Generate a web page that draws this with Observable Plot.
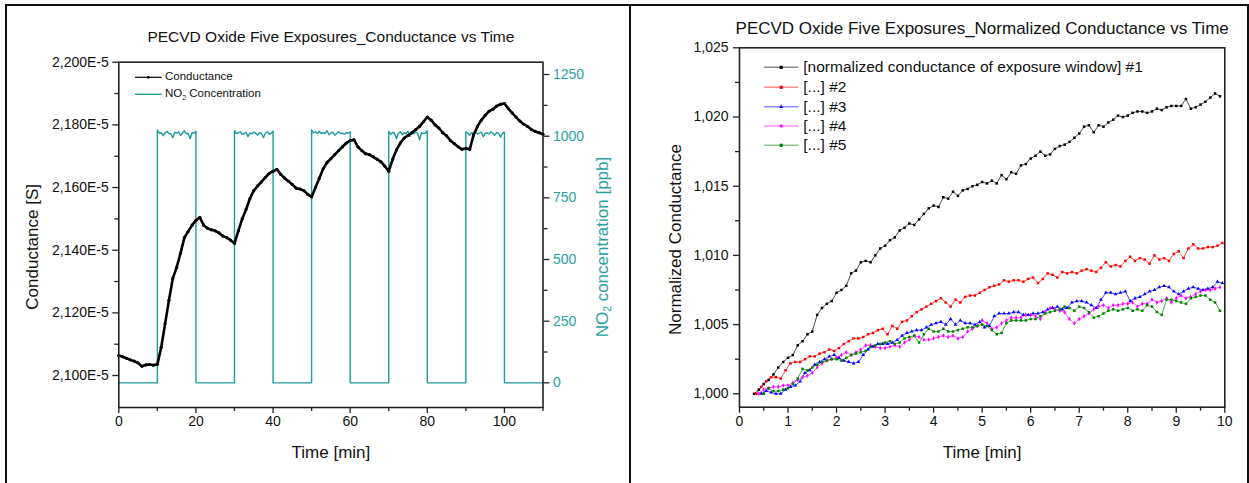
<!DOCTYPE html>
<html><head><meta charset="utf-8">
<script src="https://cdn.jsdelivr.net/npm/d3@7"></script>
<script src="https://cdn.jsdelivr.net/npm/@observablehq/plot@0.6"></script>
<style>
html,body{margin:0;padding:0;background:#fff;}
#root{position:relative;width:1249px;height:483px;overflow:hidden;font-family:"Liberation Sans",Arial,sans-serif;color:#111;}
.layer{position:absolute;top:0;}
.layer svg{background:none !important;overflow:visible;}
.bl{position:absolute;background:#111;}
.lt{position:absolute;white-space:nowrap;line-height:1;transform:translateY(-50%);}
sub{font-size:0.6em;vertical-align:-0.35em;line-height:0;}
</style>
</head><body>
<div id="root"></div>
<script>
// ---------------- DATA ----------------
// Left panel: conductance (units of 1E-5 S), sampled every minute from t = 0 to 110 min
const condStartMin = 0, condStepMin = 1;
const conductance = [
 2.1064,2.1060,2.1055,2.1050,2.1046,2.1040,2.1030,2.1034,2.1035,2.1033,
 2.1036,2.1090,2.1165,2.1240,2.1310,2.1345,2.1390,2.1440,2.1460,2.1480,
 2.1495,2.1505,2.1480,2.1470,2.1465,2.1462,2.1455,2.1445,2.1440,2.1432,
 2.1422,2.1462,2.1500,2.1530,2.1565,2.1590,2.1605,2.1618,2.1632,2.1645,
 2.1652,2.1658,2.1642,2.1630,2.1620,2.1610,2.1598,2.1595,2.1590,2.1578,
 2.1570,2.1600,2.1630,2.1660,2.1680,2.1692,2.1705,2.1718,2.1730,2.1742,
 2.1750,2.1752,2.1730,2.1718,2.1708,2.1705,2.1698,2.1690,2.1682,2.1668,
 2.1652,2.1690,2.1720,2.1742,2.1758,2.1766,2.1775,2.1785,2.1795,2.1810,
 2.1825,2.1815,2.1800,2.1790,2.1775,2.1765,2.1750,2.1740,2.1730,2.1722,
 2.1725,2.1722,2.1768,2.1795,2.1815,2.1830,2.1843,2.1850,2.1860,2.1866,
 2.1868,2.1852,2.1838,2.1825,2.1812,2.1802,2.1795,2.1785,2.1779,2.1775,
 2.1770
];
// NO2 exposures (min) and plateau readings (ppb) every 0.5 min during each exposure
const exposureStart = [10, 30, 50, 70, 90];
const exposureEnd = [20, 40, 60, 80, 100];
const plateauStepMin = 0.5;
const plateaus = [
 [1025,1012,1014,1002,1013,1020,1011,1010,994,1016,1012,1018,1003,1012,1022,1010,1011,990,1014,1012,1020],
 [1022,1011,1013,1018,1008,1010,1016,998,1013,1010,1016,1012,1004,1014,1011,994,1012,1018,1009,1011,1020],
 [1026,1013,1018,1010,1020,1011,1014,1012,1022,1006,1012,1016,1004,1010,1018,1011,1012,1008,1015,1012,1018],
 [1020,1008,1015,1012,990,1012,1018,1006,1014,1011,1020,999,1012,1010,1016,1012,985,1014,1011,1012,1022],
 [1018,1012,1004,1014,1011,1020,1008,1012,1016,998,1011,1014,1009,1018,1012,1004,1015,1011,996,1012,1016]
];
const leftTimeEnd = 110;
const condMajorTicks = [2.10, 2.12, 2.14, 2.16, 2.18, 2.20];
const condMinorTicks = [2.11, 2.13, 2.15, 2.17, 2.19];
const concMajorTicks = [0, 250, 500, 750, 1000, 1250];
const concMinorTicks = [125, 375, 625, 875, 1125];
const leftXMajor = [0, 20, 40, 60, 80, 100];
const leftXMinor = [10, 30, 50, 70, 90, 110];

// Right panel: normalized conductance, sampled every 0.1 min
const seriesNames = [
 "[normalized conductance of exposure window] #1",
 "[...] #2", "[...] #3", "[...] #4", "[...] #5"
];
const seriesStartMin = [0.3, 0.35, 0.45, 0.4, 0.5];
const normStepMin = 0.1;
const norm1 = [
 1.0000,1.0003,1.0007,1.0010,1.0014,1.0019,1.0023,1.0026,1.0028,1.0035,
 1.0038,1.0043,1.0045,1.0057,1.0062,1.0065,1.0067,1.0073,1.0075,1.0078,
 1.0087,1.0089,1.0095,1.0096,1.0095,1.0100,1.0105,1.0107,1.0111,1.0113,
 1.0118,1.0120,1.0123,1.0122,1.0126,1.0130,1.0134,1.0136,1.0135,1.0142,
 1.0141,1.0146,1.0143,1.0147,1.0148,1.0150,1.0151,1.0153,1.0152,1.0154,
 1.0152,1.0158,1.0155,1.0160,1.0159,1.0165,1.0166,1.0170,1.0172,1.0175,
 1.0172,1.0173,1.0177,1.0179,1.0180,1.0182,1.0185,1.0188,1.0193,1.0194,
 1.0189,1.0194,1.0193,1.0196,1.0198,1.0201,1.0200,1.0201,1.0203,1.0204,
 1.0204,1.0203,1.0204,1.0206,1.0205,1.0207,1.0208,1.0208,1.0208,1.0213,
 1.0206,1.0207,1.0209,1.0211,1.0214,1.0217,1.0215
];
const norm2 = [
 1.0000,1.0005,1.0009,1.0012,1.0012,1.0011,1.0017,1.0022,1.0023,1.0023,
 1.0025,1.0027,1.0027,1.0029,1.0030,1.0032,1.0031,1.0033,1.0036,1.0038,
 1.0040,1.0040,1.0041,1.0043,1.0044,1.0046,1.0047,1.0043,1.0049,1.0047,
 1.0052,1.0053,1.0056,1.0059,1.0061,1.0063,1.0065,1.0067,1.0069,1.0066,
 1.0063,1.0068,1.0066,1.0070,1.0071,1.0071,1.0073,1.0075,1.0077,1.0078,
 1.0079,1.0082,1.0081,1.0082,1.0082,1.0081,1.0083,1.0084,1.0080,1.0083,
 1.0087,1.0086,1.0084,1.0088,1.0087,1.0088,1.0087,1.0089,1.0090,1.0089,
 1.0088,1.0091,1.0095,1.0092,1.0093,1.0092,1.0096,1.0099,1.0096,1.0098,
 1.0097,1.0094,1.0100,1.0097,1.0098,1.0096,1.0101,1.0103,1.0098,1.0105,
 1.0108,1.0105,1.0105,1.0106,1.0106,1.0107,1.0109
];
const norm3 = [
 1.0000,1.0002,1.0001,1.0000,1.0000,1.0003,1.0005,1.0006,1.0009,1.0015,
 1.0017,1.0021,1.0023,1.0025,1.0027,1.0028,1.0026,1.0024,1.0023,1.0022,
 1.0023,1.0028,1.0032,1.0034,1.0036,1.0036,1.0036,1.0037,1.0039,1.0042,
 1.0044,1.0045,1.0046,1.0046,1.0048,1.0050,1.0051,1.0052,1.0050,1.0054,
 1.0050,1.0053,1.0051,1.0051,1.0050,1.0052,1.0048,1.0049,1.0056,1.0058,
 1.0058,1.0058,1.0059,1.0059,1.0057,1.0057,1.0058,1.0058,1.0059,1.0061,
 1.0062,1.0063,1.0061,1.0062,1.0066,1.0067,1.0067,1.0066,1.0064,1.0062,
 1.0068,1.0073,1.0073,1.0072,1.0073,1.0074,1.0067,1.0069,1.0070,1.0072,
 1.0074,1.0075,1.0077,1.0078,1.0077,1.0074,1.0072,1.0074,1.0076,1.0077,
 1.0076,1.0075,1.0076,1.0077,1.0081,1.0080
];
const norm4 = [
 1.0000,1.0003,1.0004,1.0005,1.0005,1.0006,1.0006,1.0008,1.0010,1.0012,
 1.0013,1.0015,1.0019,1.0022,1.0024,1.0025,1.0026,1.0028,1.0030,1.0028,
 1.0030,1.0032,1.0035,1.0035,1.0034,1.0033,1.0033,1.0034,1.0035,1.0034,
 1.0037,1.0039,1.0042,1.0041,1.0039,1.0039,1.0040,1.0041,1.0042,1.0041,
 1.0042,1.0040,1.0041,1.0045,1.0047,1.0049,1.0053,1.0051,1.0047,1.0048,
 1.0051,1.0053,1.0055,1.0055,1.0055,1.0057,1.0057,1.0056,1.0054,1.0059,
 1.0062,1.0061,1.0060,1.0059,1.0054,1.0051,1.0054,1.0056,1.0058,1.0061,
 1.0063,1.0064,1.0062,1.0064,1.0064,1.0065,1.0065,1.0066,1.0063,1.0065,
 1.0065,1.0068,1.0066,1.0067,1.0069,1.0066,1.0069,1.0071,1.0069,1.0070,
 1.0072,1.0074,1.0075,1.0075,1.0076,1.0077
];
const norm5 = [
 1.0000,1.0004,1.0002,1.0002,1.0003,1.0004,1.0007,1.0011,1.0018,1.0017,
 1.0019,1.0021,1.0023,1.0024,1.0025,1.0025,1.0024,1.0026,1.0028,1.0029,
 1.0030,1.0031,1.0034,1.0035,1.0036,1.0037,1.0038,1.0036,1.0037,1.0040,
 1.0041,1.0042,1.0037,1.0043,1.0047,1.0045,1.0045,1.0047,1.0045,1.0045,
 1.0046,1.0047,1.0048,1.0048,1.0049,1.0050,1.0049,1.0046,1.0043,1.0044,
 1.0051,1.0053,1.0053,1.0053,1.0053,1.0054,1.0054,1.0056,1.0058,1.0059,
 1.0060,1.0061,1.0063,1.0062,1.0060,1.0063,1.0062,1.0059,1.0055,1.0056,
 1.0058,1.0060,1.0061,1.0060,1.0061,1.0062,1.0060,1.0061,1.0060,1.0064,
 1.0063,1.0059,1.0057,1.0068,1.0068,1.0067,1.0066,1.0065,1.0069,1.0070,
 1.0071,1.0071,1.0068,1.0066,1.0060
];
const normMajorY = [1.000, 1.005, 1.010, 1.015, 1.020, 1.025];
const normMinorY = [1.0025, 1.0075, 1.0125, 1.0175, 1.0225];
const normMajorX = [0,1,2,3,4,5,6,7,8,9,10];
const normMinorX = [0.5,1.5,2.5,3.5,4.5,5.5,6.5,7.5,8.5,9.5];

const leftTitle = "PECVD Oxide Five Exposures_Conductance vs Time";
const rightTitle = "PECVD Oxide Five Exposures_Normalized Conductance vs Time";

// ---------------- STYLE ----------------
const FONT = '"Liberation Sans", Arial, sans-serif';
const AXIS = "#222";
const TEAL = "#1e9c9c";
const TEAL_TXT = "#2a9fa0";
const seriesColors = ["#000000", "#ff0000", "#0000ff", "#ff00ff", "#008000"];
const seriesSymbols = ["square", "square", "triangle", "diamond", "square"];

// ---------------- TABLES ----------------
const condRows = conductance.map((g, i) => ({t: condStartMin + i * condStepMin, g}));
const concRows = [{t: 0, c: 0}];
exposureStart.forEach((s, i) => {
  concRows.push({t: s, c: 0});
  plateaus[i].forEach((c, j) => concRows.push({t: s + j * plateauStepMin, c}));
  concRows.push({t: exposureEnd[i], c: 0});
});
concRows.push({t: leftTimeEnd, c: 0});

const normSeries = [norm1, norm2, norm3, norm4, norm5];
const normRows = [];
normSeries.forEach((arr, k) => arr.forEach((v, i) =>
  normRows.push({t: Math.round((seriesStartMin[k] + i * normStepMin) * 1000) / 1000, v, s: seriesNames[k]})));

const fmtG = d => d3.format(".3f")(d).replace(".", ",") + "E-5";
const fmtN = d => d3.format(".3f")(d).replace(".", ",");
const fmtC = d => String(d);
const blank = () => "";

const root = document.getElementById("root");
function layer(el, left) {
  const d = document.createElement("div");
  d.className = "layer"; d.style.left = left + "px";
  d.appendChild(el); root.appendChild(d);
}

const LM = {width: 630, height: 483, marginLeft: 118.3, marginRight: 87.5, marginTop: 61.7, marginBottom: 76};
const baseStyle = {background: "none", fontFamily: FONT, fontSize: "14px", color: "#111", overflow: "visible"};

// Concentration layer (under)
layer(Plot.plot({
  ...LM, style: baseStyle,
  x: {domain: [0, 110], axis: null},
  y: {domain: [-100, 1300], label: null},
  marks: [
    Plot.line(concRows, {x: "t", y: "c", stroke: TEAL, strokeWidth: 1.4}),
    Plot.axisY(concMajorTicks, {anchor: "right", tickSize: 6, tickPadding: 4, tickFormat: fmtC, fill: TEAL_TXT, stroke: AXIS, strokeWidth: 1.3, label: null, fontSize: 14}),
    Plot.axisY(concMinorTicks, {anchor: "right", tickSize: 4, tickFormat: blank, stroke: AXIS, strokeWidth: 1.3, label: null})
  ]
}), 0);

// Conductance layer (over)
layer(Plot.plot({
  ...LM, style: baseStyle,
  x: {domain: [0, 110], label: null},
  y: {domain: [2.0898, 2.2], label: null},
  marks: [
    Plot.axisY(condMajorTicks, {tickSize: 6, tickPadding: 4, tickFormat: fmtG, stroke: AXIS, strokeWidth: 1.3, label: null, fontSize: 14}),
    Plot.axisY(condMinorTicks, {tickSize: 4, tickFormat: blank, stroke: AXIS, strokeWidth: 1.3, label: null}),
    Plot.axisX(leftXMajor, {tickSize: 6, tickPadding: 3, stroke: AXIS, strokeWidth: 1.3, label: null, fontSize: 14}),
    Plot.axisX(leftXMinor, {tickSize: 4, tickFormat: blank, stroke: AXIS, strokeWidth: 1.3, label: null}),
    Plot.line(condRows, {x: "t", y: "g", stroke: "#000", strokeWidth: 2.6}),
    Plot.dot(condRows, {x: "t", y: "g", r: 1.6, fill: "#000"}),
    Plot.frame({stroke: AXIS, strokeWidth: 1.6}),
    Plot.text([leftTitle], {frameAnchor: "top", lineAnchor: "middle", dy: -24.7, fontSize: 15.5, text: d => d}),
    Plot.text(["Conductance [S]"], {frameAnchor: "left", textAnchor: "middle", lineAnchor: "middle", dx: -86.5, dy: 12, rotate: -90, fontSize: 17, text: d => d}),
    Plot.text(["Time [min]"], {frameAnchor: "bottom", lineAnchor: "middle", dy: 45, fontSize: 17, text: d => d})
  ]
}), 0);

// Right panel
layer(Plot.plot({
  width: 619, height: 483, marginLeft: 109, marginRight: 24.7, marginTop: 47.3, marginBottom: 76.3,
  style: baseStyle,
  x: {domain: [0, 10], label: null},
  y: {domain: [0.99903, 1.025], label: null},
  color: {domain: seriesNames, range: seriesColors},
  symbol: {domain: seriesNames, range: seriesSymbols},
  marks: [
    Plot.axisY(normMajorY, {tickSize: 6, tickPadding: 5, tickFormat: fmtN, stroke: AXIS, strokeWidth: 1.3, label: null, fontSize: 14}),
    Plot.axisY(normMinorY, {tickSize: 4, tickFormat: blank, stroke: AXIS, strokeWidth: 1.3, label: null}),
    Plot.axisX(normMajorX, {tickSize: 6, tickPadding: 3, stroke: AXIS, strokeWidth: 1.3, label: null, fontSize: 14}),
    Plot.axisX(normMinorX, {tickSize: 4, tickFormat: blank, stroke: AXIS, strokeWidth: 1.3, label: null}),
    Plot.line(normRows, {x: "t", y: "v", z: "s", stroke: "s", strokeWidth: 1, strokeOpacity: 0.7}),
    Plot.dot(normRows, {x: "t", y: "v", fill: "s", symbol: "s", r: 1.4}),
    Plot.frame({stroke: AXIS, strokeWidth: 1.6}),
    Plot.text([rightTitle], {frameAnchor: "top", lineAnchor: "middle", dy: -19.3, fontSize: 17, text: d => d}),
    Plot.text(["Normalized Conductance"], {frameAnchor: "left", textAnchor: "middle", lineAnchor: "middle", dx: -64, dy: 12, rotate: -90, fontSize: 17, text: d => d}),
    Plot.text(["Time [min]"], {frameAnchor: "bottom", lineAnchor: "middle", dy: 45.3, fontSize: 17, text: d => d})
  ]
}), 630);

// NO2 axis title (needs a subscript)
const no2 = document.createElement("div");
no2.style.cssText = `position:absolute;left:601.7px;top:246.5px;transform:translate(-50%,-50%) rotate(-90deg);white-space:nowrap;font-size:17px;color:${TEAL_TXT};line-height:1;`;
no2.innerHTML = "NO<sub>2</sub> concentration [ppb]";
root.appendChild(no2);

// Legends
const symPath = {
  square: (x, y) => `<rect x="${x-1.6}" y="${y-1.6}" width="3.2" height="3.2"/>`,
  triangle: (x, y) => `<path d="M${x},${y-2.2}L${x+2},${y+1.4}L${x-2},${y+1.4}Z"/>`,
  diamond: (x, y) => `<path d="M${x},${y-2}L${x+2},${y}L${x},${y+2}L${x-2},${y}Z"/>`
};
let svg = `<svg width="1249" height="483" style="position:absolute;left:0;top:0;overflow:visible">`;
svg += `<line x1="135" x2="161.7" y1="77.3" y2="77.3" stroke="#000" stroke-width="1.2"/><circle cx="148.3" cy="77.3" r="1.4" fill="#000"/>`;
svg += `<line x1="135" x2="161.7" y1="94.3" y2="94.3" stroke="${TEAL}" stroke-width="1.4"/>`;
const rowsY = [67.3, 87.3, 106.7, 126, 145.3];
seriesNames.forEach((n, k) => {
  const y = rowsY[k];
  svg += `<line x1="764" x2="798.3" y1="${y}" y2="${y}" stroke="${seriesColors[k]}" stroke-opacity="0.45" stroke-width="1.6"/>`;
  svg += `<g fill="${seriesColors[k]}">${symPath[seriesSymbols[k]](781.2, y)}</g>`;
});
svg += `</svg>`;
const lg = document.createElement("div");
lg.innerHTML = svg;
root.appendChild(lg);

function label(html, left, cy, size) {
  const d = document.createElement("div");
  d.className = "lt"; d.style.left = left + "px"; d.style.top = cy + "px"; d.style.fontSize = size + "px";
  d.innerHTML = html; root.appendChild(d);
}
label("Conductance", 165, 77.3, 11.5);
label("NO<sub>2</sub> Concentration", 165, 94.3, 11.5);
seriesNames.forEach((n, k) => label(n, 803.3, rowsY[k], 15.5));

// Figure borders
[["left:5px;top:4px;width:1244px;height:2px"], ["left:5px;top:4px;width:2px;height:479px"],
 ["left:629px;top:4px;width:2px;height:479px"], ["left:1247px;top:4px;width:2px;height:479px"]]
 .forEach(([css]) => { const b = document.createElement("div"); b.className = "bl"; b.style.cssText += css; root.appendChild(b); });
</script>
</body></html>
